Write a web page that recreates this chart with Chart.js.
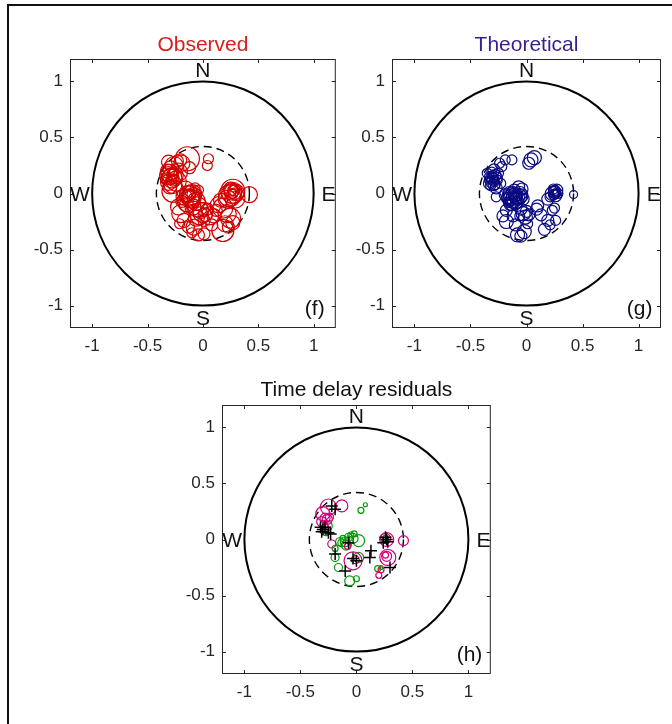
<!DOCTYPE html>
<html>
<head>
<meta charset="utf-8">
<script src="https://cdn.jsdelivr.net/npm/chart.js@4/dist/chart.umd.min.js"></script>
<style>
  html, body { margin: 0; padding: 0; background: #fff; overflow: hidden; }
  #frame { position: absolute; left: 7px; top: 4px; width: 700px; height: 760px;
           border-left: 2px solid #111; border-top: 2px solid #111; }
  canvas { position: absolute; }
</style>
</head>
<body>
<div id="frame"></div>
<canvas id="chart-f" width="339" height="343" style="left:10px;top:15px"></canvas>
<canvas id="chart-g" width="339" height="343" style="left:332px;top:15px"></canvas>
<canvas id="chart-h" width="339" height="343" style="left:162px;top:361px"></canvas>
<script>
// axis ticks shared by every panel
const tickVals = [-1, -0.5, 0, 0.5, 1];

// (f) observed: east, north, marker size
const obsX = [-0.30,-0.28,-0.31,-0.27,-0.25,-0.32,-0.29,-0.26,-0.33,-0.30,-0.24,-0.28,-0.22,-0.27,-0.31,-0.23,
  -0.29,-0.27,-0.31,
  -0.14,-0.19,-0.20,0.05,0.04,-0.12,
  -0.12,-0.10,-0.14,-0.08,-0.13,-0.17,-0.06,-0.11,-0.15,-0.09,-0.19,-0.04,-0.07,-0.16,
  -0.11,-0.13,-0.10,
  0.00,-0.02,0.02,-0.03,0.04,-0.06,0.01,-0.05,0.06,0.00,
  0.27,0.27,0.28,0.26,0.24,0.30,0.22,0.28,0.25,0.29,0.27,0.26,0.27,
  0.42,
  0.14,0.12,0.18,0.22,0.25,0.20,0.27,0.18,0.23,0.10,0.08,0.16,
  -0.13,-0.17,-0.20,-0.22,-0.04,0.01,-0.08,-0.10,-0.21];
const obsY = [0.18,0.14,0.10,0.08,0.16,0.20,0.22,0.25,0.13,0.06,0.11,0.17,0.19,0.02,0.28,0.29,
  0.15,0.12,0.16,
  0.31,0.27,0.30,0.31,0.25,0.23,
  -0.02,-0.05,0.00,-0.01,-0.07,-0.03,-0.07,0.02,-0.10,-0.12,-0.07,0.03,0.05,0.03,
  -0.04,-0.02,-0.01,
  -0.17,-0.15,-0.19,-0.20,-0.14,-0.22,-0.24,-0.12,-0.20,-0.17,
  0.02,0.02,0.03,0.00,-0.02,0.01,-0.05,0.05,0.04,-0.04,0.01,0.02,0.00,
  -0.01,
  -0.10,-0.15,-0.13,-0.18,-0.22,-0.27,-0.26,-0.33,-0.30,-0.20,-0.28,-0.06,
  -0.30,-0.24,-0.18,-0.12,-0.37,-0.36,-0.30,-0.35,-0.27];
const obsSize = [9,10,8,9,8,7,8,9,6,7,10,5,9,11,7,6,
  8,6,9,
  12,8,6,5,5,6,
  10,9,8,7,11,8,9,6,7,8,6,5,5,9,
  9,7,10,
  10,8,7,9,6,8,6,10,9,4,
  12,9,6,10,11,8,9,4,7,10,3,7,5,
  8,
  8,6,10,9,10,8,7,11,6,7,6,7,
  6,7,9,8,6,6,8,5,5];

// (g) theoretical
const theoX = [-0.30,-0.32,-0.28,-0.33,-0.29,-0.26,-0.31,-0.27,-0.34,-0.25,-0.29,-0.23,-0.35,
  -0.31,-0.29,-0.32,-0.27,-0.30,-0.28,-0.33,
  0.04,0.07,0.02,-0.13,-0.19,-0.24,-0.22,
  -0.13,-0.10,-0.15,-0.12,-0.08,-0.17,-0.11,-0.06,-0.14,-0.09,-0.19,-0.04,-0.07,-0.16,-0.12,-0.03,
  -0.11,-0.14,-0.09,-0.12,-0.15,-0.10,-0.07,-0.13,-0.05,
  -0.27,
  -0.03,0.00,-0.05,-0.01,0.02,-0.06,
  0.25,0.27,0.23,0.26,0.21,0.28,0.24,0.19,0.26,0.25,0.26,0.24,
  0.42,
  0.10,0.13,0.23,0.26,0.19,0.16,0.25,0.21,0.09,
  -0.18,-0.10,-0.08,-0.02,-0.18,-0.21,0.01,-0.12,-0.05];
const theoY = [0.13,0.10,0.16,0.15,0.08,0.12,0.19,0.05,0.12,0.18,0.21,0.09,0.18,
  0.14,0.11,0.07,0.14,0.17,0.08,0.09,
  0.30,0.32,0.27,0.30,0.30,0.27,0.24,
  -0.03,-0.01,0.00,-0.06,-0.04,-0.04,0.03,0.00,-0.09,-0.08,-0.01,0.04,0.06,-0.08,-0.02,-0.05,
  -0.04,-0.02,-0.02,0.00,-0.05,-0.07,-0.03,-0.10,-0.02,
  -0.03,
  -0.18,-0.16,-0.14,-0.21,-0.19,-0.20,
  0.01,0.03,0.00,-0.02,-0.03,0.00,0.04,-0.05,0.01,0.02,0.00,-0.01,
  -0.01,
  -0.11,-0.19,-0.15,-0.24,-0.24,-0.32,-0.13,-0.28,-0.14,
  -0.25,-0.28,-0.37,-0.34,-0.15,-0.20,-0.27,-0.20,-0.38];
const theoSize = [6,5,6,5,6,5,5,6,4,5,6,5,5,
  6,5,5,6,4,5,6,
  7,7,6,5,5,5,5,
  8,7,7,8,7,6,6,7,7,6,6,6,6,5,4,6,
  8,8,6,7,7,8,8,6,7,
  5,
  7,6,6,7,6,5,
  6,6,7,6,5,5,5,6,3,6,5,5,
  4,
  6,6,5,5,6,6,5,5,6,
  7,6,7,7,6,6,5,6,6];

// (h) residuals: magenta circles, green circles, black crosses
const magX = [-0.30,-0.28,-0.31,-0.26,-0.29,-0.24,-0.25,-0.13,-0.22,-0.28,
  0.27,0.26,0.28,0.27,0.26,0.42,0.20,0.22,
  -0.03,-0.01,-0.08];
const magY = [0.23,0.19,0.16,0.18,0.13,0.20,0.29,0.30,-0.04,0.10,
  0.00,0.01,-0.16,-0.15,-0.14,-0.01,-0.32,-0.27,
  -0.19,-0.18,-0.06];
const magSize = [7,5,5,5,4,4,8,6,4,4,
  7,5,8,5,3,5,3,3,
  9,4,3];
const grnX = [0.04,0.08,
  -0.10,-0.13,-0.07,-0.05,-0.03,0.02,-0.09,-0.12,-0.15,-0.06,-0.02,
  -0.19,-0.19,-0.16,-0.06,0.00,0.19,0.22,0.02,0.26,-0.26,-0.27];
const grnY = [0.26,0.31,
  -0.02,-0.03,0.02,0.04,0.01,-0.01,-0.05,0.01,-0.02,-0.01,0.05,
  -0.08,-0.16,-0.25,-0.37,-0.35,-0.26,-0.25,-0.16,0.01,0.12,0.07];
const grnSize = [3,2,
  5,4,4,3,5,6,5,3,4,4,3,
  3,4,4,5,3,3,2,5,3,5,4];
const crossX = [-0.22,-0.19,-0.32,-0.30,-0.28,-0.31,-0.25,-0.23,-0.07,-0.19,-0.10,-0.03,0.00,0.13,0.12,0.24,0.27,0.26,0.30,0.28];
const crossY = [0.30,0.27,0.11,0.09,0.11,0.07,0.06,0.05,-0.03,-0.13,-0.28,-0.17,-0.19,-0.10,-0.16,-0.03,0.00,0.02,-0.25,-0.02];

const FONT = "'Liberation Sans', Arial, sans-serif";
const ink = "#262626";

function bubbles(xs, ys, rs, color) {
  return {
    type: "bubble",
    data: xs.map((v, i) => ({ x: v, y: ys[i], r: rs[i] })),
    backgroundColor: "rgba(0,0,0,0)",
    borderColor: color,
    borderWidth: 1.2,
    hoverRadius: 0
  };
}

// circles, box, inward ticks, compass letters, titles
const decor = {
  id: "decor",
  beforeDatasetsDraw(chart) {
    const { ctx, scales: { x, y } } = chart;
    const cx = x.getPixelForValue(0), cy = y.getPixelForValue(0);
    const rx = x.getPixelForValue(1) - cx, ry = cy - y.getPixelForValue(1);
    ctx.save();
    ctx.strokeStyle = "#000";
    ctx.lineWidth = 2;
    ctx.beginPath();
    ctx.ellipse(cx, cy, rx, ry, 0, 0, Math.PI * 2);
    ctx.stroke();
    ctx.lineWidth = 1.4;
    ctx.setLineDash([8, 5]);
    ctx.beginPath();
    ctx.ellipse(cx, cy, rx * 0.42, ry * 0.42, 0, 0, Math.PI * 2);
    ctx.stroke();
    ctx.restore();
  },
  afterDraw(chart, args, opts) {
    const { ctx, chartArea: a, scales: { x, y } } = chart;
    ctx.save();
    ctx.strokeStyle = ink;
    ctx.lineWidth = 1;
    ctx.strokeRect(a.left + 0.5, a.top + 0.5, a.right - a.left - 1, a.bottom - a.top - 1);
    ctx.beginPath();
    const tl = 4;
    tickVals.forEach(v => {
      const px = Math.round(x.getPixelForValue(v)) + 0.5;
      ctx.moveTo(px, a.bottom); ctx.lineTo(px, a.bottom - tl);
      ctx.moveTo(px, a.top); ctx.lineTo(px, a.top + tl);
      const py = Math.round(y.getPixelForValue(v)) + 0.5;
      ctx.moveTo(a.left, py); ctx.lineTo(a.left + tl, py);
      ctx.moveTo(a.right, py); ctx.lineTo(a.right - tl, py);
    });
    ctx.stroke();

    ctx.fillStyle = "#111";
    ctx.font = "21px " + FONT;
    ctx.textAlign = "center";
    ctx.textBaseline = "alphabetic";
    [["N", 0, 1.04], ["S", 0, -1.17], ["W", -1.11, -0.065], ["E", 1.135, -0.065]].forEach(([t, vx, vy]) => {
      ctx.fillText(t, x.getPixelForValue(vx), y.getPixelForValue(vy));
    });
    ctx.fillText(opts.tag, x.getPixelForValue(1.01), y.getPixelForValue(-1.08));

    ctx.fillStyle = opts.color;
    ctx.fillText(opts.title, (a.left + a.right) / 2, a.top - opts.lift);
    ctx.restore();
  }
};

function axis(isX) {
  return {
    type: "linear",
    min: -1.2,
    max: 1.2,
    afterBuildTicks: s => { s.ticks = tickVals.map(v => ({ value: v })); },
    afterFit: s => { if (isX) s.height = 30; else s.width = 60; },
    grid: { display: true, drawOnChartArea: false, drawTicks: false },
    border: { display: false },
    ticks: {
      color: ink,
      padding: isX ? 8 : 7,
      font: { size: 17, family: FONT },
      maxRotation: 0,
      autoSkip: false,
      callback: v => String(v)
    }
  };
}

function panel(id, datasets, title, color, tag, lift) {
  new Chart(document.getElementById(id), {
    type: "bubble",
    data: { datasets },
    plugins: [decor],
    options: {
      responsive: false,
      animation: false,
      layout: { padding: { top: 44, right: 10, left: 0, bottom: 0 } },
      plugins: {
        legend: { display: false },
        tooltip: { enabled: false },
        decor: { title, color, tag, lift }
      },
      scales: { x: axis(true), y: axis(false) }
    }
  });
}

panel("chart-f", [bubbles(obsX, obsY, obsSize, "#d40000")], "Observed", "#d81e1e", "(f)", 8);
panel("chart-g", [bubbles(theoX, theoY, theoSize, "#0a0a80")], "Theoretical", "#3a1f8c", "(g)", 8);
panel("chart-h", [
  {
    type: "scatter",
    data: crossX.map((v, i) => ({ x: v, y: crossY[i] })),
    pointStyle: "cross",
    pointRadius: 6,
    borderColor: "#000",
    borderWidth: 1.5
  },
  bubbles(magX, magY, magSize, "#d4007a"),
  bubbles(grnX, grnY, grnSize, "#079a07")
], "Time delay residuals", "#111", "(h)", 9);
</script>
</body>
</html>
